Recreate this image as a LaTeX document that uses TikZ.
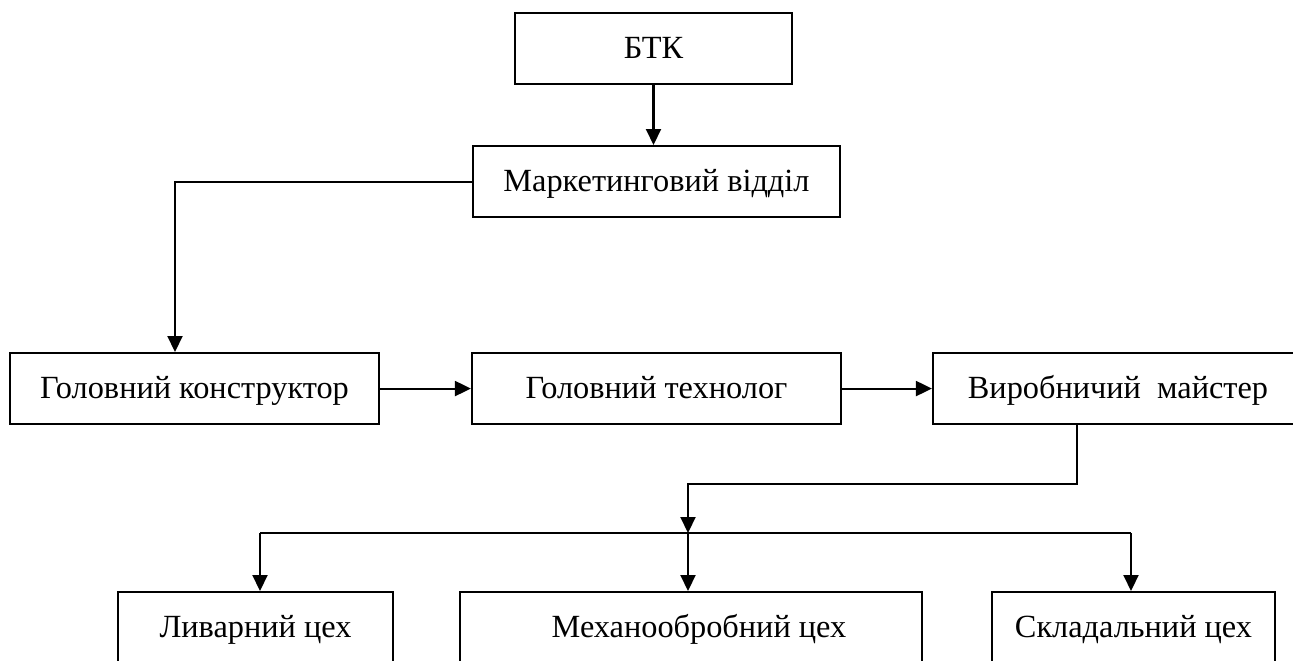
\documentclass[tikz,border=0pt]{standalone}
\usepackage{fontspec}
\setmainfont{Liberation Serif}
\usetikzlibrary{arrows.meta}

\begin{document}
\begin{tikzpicture}[font=\fontsize{18.4}{22}\selectfont,line width=1.2pt,box/.style={draw,anchor=north,inner xsep=0pt,inner ysep=0pt,text height=0.9cm,text depth=0.52cm},shopbox/.style={box,text depth=1.5cm},arr/.style={-{Triangle[length=0.32cm,width=0.3cm]}}]
\useasboundingbox (0,0) rectangle (25.86,-13.22);
\node[box,minimum width=5.54cm] (btk) at (13.07,-0.24){БТК};
\node[box,minimum width=7.34cm] (mkt) at (13.13,-2.9){Маркетинговий відділ\hspace{0.48cm}};
\node[box,minimum width=7.38cm] (gk) at (3.89,-7.04){Головний конструктор};
\node[box,minimum width=7.38cm] (gt) at (13.13,-7.04){Головний технолог};
\node[box,minimum width=7.4cm] (vm) at (22.36,-7.04){Виробничий\ \ майстер};
\node[shopbox,minimum width=5.5cm] (lc) at (5.11,-11.82){Ливарний цех};
\node[shopbox,minimum width=9.24cm] (mc) at (13.82,-11.82){\hspace{0.32cm}Механообробний цех};
\node[shopbox,minimum width=5.66cm] (sc) at (22.67,-11.82){Складальний цех};
\coordinate (split) at (13.76,-10.66);
\draw[arr] (btk.south) -- (btk.south |- mkt.north);
\draw[arr] (mkt.west) -| ([xshift=-0.39cm]gk.north);
\draw[arr] (gk.east) -- (gt.west);
\draw[arr] (gt.east) -- (vm.west);
\draw[arr] ([xshift=-0.82cm]vm.south) -- ++(0,-1.18) -| (split);
\draw ([xshift=0.09cm]lc.north |- split) -- ([xshift=-0.05cm]sc.north |- split);
\draw[arr] ([xshift=0.09cm]lc.north |- split) -- ([xshift=0.09cm]lc.north);
\draw[arr] (split) -- (split |- mc.north);
\draw[arr] ([xshift=-0.05cm]sc.north |- split) -- ([xshift=-0.05cm]sc.north);
\end{tikzpicture}
\end{document}
